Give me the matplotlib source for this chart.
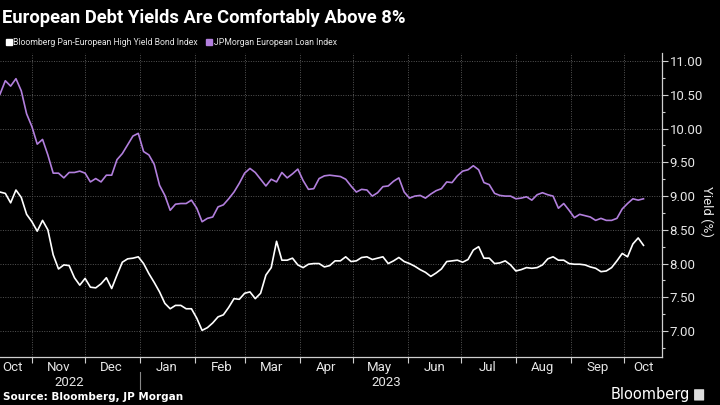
import numpy as np
import pandas as pd
import matplotlib
matplotlib.use("Agg")
from matplotlib import pyplot as plt
from matplotlib.lines import Line2D
from matplotlib.patches import FancyBboxPatch

plt.rcParams["font.family"] = ["Roboto", "DejaVu Sans"]

# Data (one reading every 3 days) =========================================
dates = pd.date_range("2022-10-14", periods=122, freq="3D")

hy_bond = [
    9.06, 9.04, 8.90, 9.09, 8.98, 8.73, 8.62, 8.48, 8.64, 8.50,
    8.13, 7.92, 7.98, 7.97, 7.79, 7.68, 7.78, 7.65, 7.64, 7.70,
    7.79, 7.63, 7.83, 8.02, 8.07, 8.08, 8.10, 8.00, 7.85, 7.72,
    7.58, 7.41, 7.33, 7.38, 7.38, 7.33, 7.33, 7.19, 7.01, 7.05,
    7.12, 7.21, 7.24, 7.35, 7.48, 7.47, 7.56, 7.58, 7.48, 7.56,
    7.83, 7.94, 8.33, 8.05, 8.05, 8.08, 7.98, 7.94, 7.99, 8.00,
    8.00, 7.95, 7.97, 8.04, 8.04, 8.10, 8.03, 8.04, 8.09, 8.10,
    8.06, 8.08, 8.10, 8.00, 8.04, 8.09, 8.03, 8.00, 7.96, 7.91,
    7.87, 7.81, 7.86, 7.92, 8.03, 8.04, 8.05, 8.02, 8.06, 8.20,
    8.25, 8.08, 8.08, 8.00, 8.01, 8.04, 7.98, 7.89, 7.91, 7.94,
    7.93, 7.94, 7.98, 8.07, 8.10, 8.05, 8.05, 8.00, 7.99, 7.99,
    7.98, 7.95, 7.93, 7.88, 7.89, 7.94, 8.04, 8.15, 8.10, 8.29,
    8.38, 8.27,
]

loan_index = [
    10.51, 10.71, 10.63, 10.74, 10.56, 10.22, 10.03, 9.77, 9.84, 9.61,
    9.34, 9.34, 9.27, 9.35, 9.35, 9.37, 9.34, 9.21, 9.26, 9.21,
    9.31, 9.31, 9.54, 9.63, 9.76, 9.89, 9.93, 9.66, 9.61, 9.47,
    9.16, 9.01, 8.79, 8.88, 8.89, 8.89, 8.94, 8.82, 8.62, 8.67,
    8.69, 8.84, 8.87, 8.96, 9.06, 9.19, 9.34, 9.41, 9.35, 9.25,
    9.15, 9.25, 9.21, 9.35, 9.27, 9.33, 9.40, 9.23, 9.10, 9.11,
    9.26, 9.30, 9.31, 9.30, 9.29, 9.25, 9.15, 9.06, 9.10, 9.09,
    9.00, 9.05, 9.14, 9.15, 9.22, 9.27, 9.06, 8.97, 9.00, 9.01,
    8.97, 9.03, 9.08, 9.11, 9.21, 9.20, 9.30, 9.37, 9.39, 9.45,
    9.39, 9.20, 9.17, 9.04, 9.01, 9.00, 9.00, 8.96, 8.97, 8.99,
    8.94, 9.02, 9.05, 9.02, 9.00, 8.82, 8.89, 8.79, 8.68, 8.73,
    8.71, 8.69, 8.64, 8.67, 8.64, 8.64, 8.67, 8.81, 8.89, 8.96,
    8.94, 8.96,
]

series_names = ["Bloomberg Pan-European High Yield Bond Index",
                "JPMorgan European Loan Index"]
series_colors = ["#ffffff", "#b27fdd"]

title = "European Debt Yields Are Comfortably Above 8%"
source = "Source: Bloomberg, JP Morgan"
y_ticks = [7.0, 7.5, 8.0, 8.5, 9.0, 9.5, 10.0, 10.5, 11.0]

# Figure ==================================================================
bg = "#000000"
axis_col = "#cfcfcf"
text_col = "#e6e6e6"

fig = plt.figure(figsize=(7.2, 4.05), dpi=100, facecolor=bg)
ax = fig.add_axes([0.0, 0.1185, 0.9194, 0.7505], facecolor=bg)

ax.plot(dates, hy_bond, color=series_colors[0], lw=1.2)
ax.plot(dates, loan_index, color=series_colors[1], lw=1.2)

ax.set_xlim(pd.Timestamp("2022-10-14"), pd.Timestamp("2023-10-22 10:00"))
ax.set_ylim(6.615, 11.12)

# y axis on the right
ax.yaxis.tick_right()
ax.set_yticks(y_ticks)
ax.set_yticklabels([f"{v:.2f}" for v in y_ticks])
ax.set_yticks(np.arange(6.75, 11.1, 0.5), minor=True)
ax.tick_params(axis="y", which="major", colors=axis_col, labelcolor=text_col,
               labelsize=9.5, length=4, width=0.8, pad=1.5)
ax.tick_params(axis="y", which="minor", colors=axis_col, length=2, width=0.8)
ax.yaxis.set_label_position("right")
ax.set_ylabel("Yield (%)", rotation=270, color=text_col, fontsize=9.5, va="center")
ax.yaxis.set_label_coords(1.067, 0.48)

# x axis: ticks at month starts, labels centred in the months
month_starts = pd.date_range("2022-11-01", "2023-10-01", freq="MS")
ax.set_xticks(month_starts)
ax.set_xticklabels([])
ax.tick_params(axis="x", which="major", colors=axis_col, length=4, width=0.8)

xt = ax.get_xaxis_transform()
lbl_dates = [pd.Timestamp("2022-10-21")] + list(month_starts[:-1] + pd.Timedelta(days=15)) \
    + [pd.Timestamp("2023-10-12")]
for d in lbl_dates:
    ax.text(d, -0.012, d.strftime("%b"), transform=xt, ha="center", va="top",
            color=text_col, fontsize=9.5)
ax.text(pd.Timestamp("2022-11-22"), -0.062, "2022", transform=xt,
        ha="center", va="top", color=text_col, fontsize=9.5)
ax.text(pd.Timestamp("2023-05-20"), -0.062, "2023", transform=xt,
        ha="center", va="top", color=text_col, fontsize=9.5)
ax.plot([pd.Timestamp("2023-01-01")] * 2, [-0.05, -0.105], transform=xt,
        color="#888888", lw=0.8, clip_on=False)

ax.grid(True, which="major", color="#555555", ls=(0, (1, 1.5)), lw=0.7)
for s in ["top", "left"]:
    ax.spines[s].set_visible(False)
for s in ["right", "bottom"]:
    ax.spines[s].set_color(axis_col)
    ax.spines[s].set_linewidth(0.9)

# Title, legend, source
fig.text(0.003, 0.955, title, color="white", fontsize=13.2, fontweight="bold",
         ha="left", va="center")
handles = [Line2D([], [], marker="s", ls="none", color=c, markersize=5) for c in series_colors]
fig.legend(handles, series_names, loc="center left", bbox_to_anchor=(-0.004, 0.895), ncol=2,
           frameon=False, fontsize=6.2, labelcolor=text_col, handletextpad=0.0,
           columnspacing=0.8, handlelength=1.0)
fig.text(0.004, 0.02, source, color="white", fontsize=7.5, fontweight="bold",
         ha="left", va="center", family="DejaVu Sans")
fig.text(0.958, 0.025, "Bloomberg", color="white", fontsize=10.5,
         ha="right", va="center", family="DejaVu Sans")
fig.patches.append(FancyBboxPatch((0.965, 0.012), 0.012, 0.026, boxstyle="round,pad=0.001",
                                  transform=fig.transFigure, facecolor="#dddddd",
                                  edgecolor="none"))

fig.savefig("out.png", dpi=100, facecolor=bg)
